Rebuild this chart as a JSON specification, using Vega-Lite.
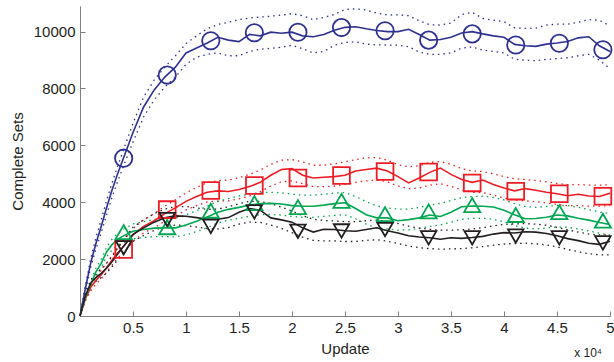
{
  "$schema": "https://vega.github.io/schema/vega-lite/v6.json",
  "width": 530,
  "height": 310,
  "autosize": {"type": "none"},
  "padding": {"left": 80, "top": 6, "right": 4, "bottom": 46},
  "config": {
    "view": {"stroke": null},
    "font": "Liberation Sans",
    "axis": {
      "domainColor": "#808080",
      "tickColor": "#808080",
      "tickSize": -5,
      "labelFontSize": 15,
      "labelColor": "#231F20",
      "labelFont": "Liberation Sans",
      "titleFont": "Liberation Sans",
      "titleFontSize": 15,
      "titleFontWeight": "normal",
      "titleColor": "#231F20",
      "grid": false,
      "labelFlush": false
    }
  },
  "datasets": {
    "curves": [
      {"x":0,"B":0,"Bl":0,"Bh":0,"R":0,"Rl":0,"Rh":0,"G":0,"Gl":0,"Gh":0,"K":0,"Kl":0,"Kh":0},
      {"x":500,"B":950,"Bl":850,"Bh":1050,"R":600,"Rl":520,"Rh":680,"G":650,"Gl":560,"Gh":740,"K":700,"Kl":620,"Kh":780},
      {"x":1000,"B":1850,"Bl":1700,"Bh":2000,"R":1000,"Rl":880,"Rh":1120,"G":1100,"Gl":980,"Gh":1220,"K":1150,"Kl":1040,"Kh":1260},
      {"x":1500,"B":2550,"Bl":2350,"Bh":2750,"R":1250,"Rl":1120,"Rh":1380,"G":1550,"Gl":1420,"Gh":1680,"K":1350,"Kl":1220,"Kh":1480},
      {"x":2000,"B":3150,"Bl":2920,"Bh":3380,"R":1450,"Rl":1300,"Rh":1600,"G":1850,"Gl":1700,"Gh":2000,"K":1500,"Kl":1350,"Kh":1650},
      {"x":2500,"B":3800,"Bl":3550,"Bh":4050,"R":1700,"Rl":1540,"Rh":1860,"G":2250,"Gl":2080,"Gh":2420,"K":1680,"Kl":1510,"Kh":1850},
      {"x":3000,"B":4400,"Bl":4150,"Bh":4650,"R":1950,"Rl":1780,"Rh":2120,"G":2500,"Gl":2310,"Gh":2690,"K":1900,"Kl":1720,"Kh":2080},
      {"x":3500,"B":4950,"Bl":4680,"Bh":5220,"R":2200,"Rl":2020,"Rh":2380,"G":2680,"Gl":2470,"Gh":2890,"K":2150,"Kl":1950,"Kh":2350},
      {"x":4000,"B":5450,"Bl":5170,"Bh":5730,"R":2400,"Rl":2200,"Rh":2600,"G":2800,"Gl":2570,"Gh":3030,"K":2400,"Kl":2180,"Kh":2620},
      {"x":5000,"B":6450,"Bl":6120,"Bh":6780,"R":2850,"Rl":2630,"Rh":3070,"G":2980,"Gl":2720,"Gh":3240,"K":2870,"Kl":2620,"Kh":3120},
      {"x":6000,"B":7350,"Bl":7000,"Bh":7700,"R":3150,"Rl":2920,"Rh":3380,"G":3040,"Gl":2760,"Gh":3320,"K":3100,"Kl":2830,"Kh":3380},
      {"x":7000,"B":7950,"Bl":7600,"Bh":8300,"R":3350,"Rl":3100,"Rh":3600,"G":3090,"Gl":2790,"Gh":3390,"K":3300,"Kl":3010,"Kh":3600},
      {"x":8000,"B":8400,"Bl":8050,"Bh":8750,"R":3600,"Rl":3340,"Rh":3860,"G":3100,"Gl":2790,"Gh":3420,"K":3450,"Kl":3140,"Kh":3760},
      {"x":9000,"B":8750,"Bl":8400,"Bh":9150,"R":3800,"Rl":3510,"Rh":4090,"G":3100,"Gl":2780,"Gh":3450,"K":3520,"Kl":3200,"Kh":3840},
      {"x":10000,"B":9250,"Bl":8850,"Bh":9580,"R":4030,"Rl":3730,"Rh":4330,"G":3200,"Gl":2850,"Gh":3560,"K":3510,"Kl":3180,"Kh":3850},
      {"x":11000,"B":9420,"Bl":9100,"Bh":9850,"R":4200,"Rl":3880,"Rh":4520,"G":3330,"Gl":2970,"Gh":3700,"K":3460,"Kl":3130,"Kh":3800},
      {"x":12000,"B":9600,"Bl":9200,"Bh":10100,"R":4350,"Rl":4010,"Rh":4690,"G":3480,"Gl":3110,"Gh":3860,"K":3400,"Kl":3070,"Kh":3750},
      {"x":13000,"B":9800,"Bl":9250,"Bh":10250,"R":4400,"Rl":4040,"Rh":4760,"G":3650,"Gl":3270,"Gh":4030,"K":3400,"Kl":3060,"Kh":3760},
      {"x":14000,"B":9700,"Bl":9150,"Bh":10330,"R":4380,"Rl":4050,"Rh":4780,"G":3750,"Gl":3370,"Gh":4130,"K":3460,"Kl":3110,"Kh":3840},
      {"x":15000,"B":9650,"Bl":9150,"Bh":10420,"R":4450,"Rl":4120,"Rh":4860,"G":3820,"Gl":3440,"Gh":4220,"K":3650,"Kl":3230,"Kh":3950},
      {"x":16000,"B":9900,"Bl":9300,"Bh":10480,"R":4550,"Rl":4220,"Rh":4980,"G":3900,"Gl":3510,"Gh":4290,"K":3780,"Kl":3300,"Kh":4030},
      {"x":17000,"B":9850,"Bl":9380,"Bh":10510,"R":4700,"Rl":4370,"Rh":5130,"G":3950,"Gl":3560,"Gh":4340,"K":3720,"Kl":3290,"Kh":4030},
      {"x":18000,"B":9980,"Bl":9410,"Bh":10540,"R":4950,"Rl":4570,"Rh":5330,"G":3960,"Gl":3570,"Gh":4350,"K":3450,"Kl":3200,"Kh":3950},
      {"x":19000,"B":9940,"Bl":9450,"Bh":10580,"R":5150,"Rl":4720,"Rh":5480,"G":3940,"Gl":3550,"Gh":4330,"K":3380,"Kl":3080,"Kh":3830},
      {"x":20000,"B":9980,"Bl":9520,"Bh":10630,"R":5180,"Rl":4750,"Rh":5500,"G":3880,"Gl":3500,"Gh":4280,"K":3300,"Kl":2930,"Kh":3690},
      {"x":21000,"B":9850,"Bl":9400,"Bh":10560,"R":4950,"Rl":4650,"Rh":5420,"G":3860,"Gl":3470,"Gh":4250,"K":3100,"Kl":2770,"Kh":3530},
      {"x":22000,"B":9820,"Bl":9250,"Bh":10420,"R":4850,"Rl":4550,"Rh":5300,"G":3860,"Gl":3470,"Gh":4250,"K":2950,"Kl":2660,"Kh":3400},
      {"x":23000,"B":9900,"Bl":9300,"Bh":10500,"R":4880,"Rl":4550,"Rh":5300,"G":3900,"Gl":3500,"Gh":4280,"K":3050,"Kl":2640,"Kh":3360},
      {"x":24000,"B":10050,"Bl":9520,"Bh":10600,"R":4900,"Rl":4570,"Rh":5350,"G":3950,"Gl":3540,"Gh":4320,"K":3040,"Kl":2640,"Kh":3340},
      {"x":25000,"B":10150,"Bl":9620,"Bh":10780,"R":4950,"Rl":4630,"Rh":5420,"G":3980,"Gl":3560,"Gh":4340,"K":3000,"Kl":2620,"Kh":3320},
      {"x":26000,"B":10170,"Bl":9640,"Bh":10800,"R":5100,"Rl":4700,"Rh":5500,"G":3780,"Gl":3420,"Gh":4200,"K":2980,"Kl":2620,"Kh":3320},
      {"x":27000,"B":10100,"Bl":9560,"Bh":10760,"R":5150,"Rl":4750,"Rh":5560,"G":3560,"Gl":3230,"Gh":4020,"K":3040,"Kl":2660,"Kh":3350},
      {"x":28000,"B":10040,"Bl":9530,"Bh":10650,"R":5200,"Rl":4780,"Rh":5570,"G":3450,"Gl":3100,"Gh":3870,"K":3100,"Kl":2680,"Kh":3370},
      {"x":29000,"B":10000,"Bl":9530,"Bh":10580,"R":5100,"Rl":4720,"Rh":5480,"G":3450,"Gl":3060,"Gh":3800,"K":3000,"Kl":2630,"Kh":3330},
      {"x":30000,"B":10000,"Bl":9520,"Bh":10590,"R":4900,"Rl":4570,"Rh":5320,"G":3350,"Gl":3020,"Gh":3760,"K":2920,"Kl":2550,"Kh":3250},
      {"x":31000,"B":10080,"Bl":9470,"Bh":10560,"R":4680,"Rl":4480,"Rh":5250,"G":3390,"Gl":3030,"Gh":3760,"K":2820,"Kl":2460,"Kh":3160},
      {"x":32000,"B":9900,"Bl":9280,"Bh":10380,"R":4850,"Rl":4500,"Rh":5280,"G":3450,"Gl":3080,"Gh":3820,"K":2780,"Kl":2400,"Kh":3090},
      {"x":33000,"B":9700,"Bl":9200,"Bh":10240,"R":5050,"Rl":4600,"Rh":5400,"G":3550,"Gl":3150,"Gh":3900,"K":2750,"Kl":2370,"Kh":3050},
      {"x":34000,"B":9720,"Bl":9200,"Bh":10230,"R":5200,"Rl":4650,"Rh":5430,"G":3500,"Gl":3200,"Gh":3960,"K":2700,"Kl":2350,"Kh":3020},
      {"x":35000,"B":9800,"Bl":9250,"Bh":10300,"R":4980,"Rl":4560,"Rh":5330,"G":3650,"Gl":3300,"Gh":4060,"K":2750,"Kl":2360,"Kh":3020},
      {"x":36000,"B":9950,"Bl":9420,"Bh":10600,"R":4800,"Rl":4430,"Rh":5180,"G":3840,"Gl":3400,"Gh":4160,"K":2730,"Kl":2370,"Kh":3030},
      {"x":37000,"B":10000,"Bl":9460,"Bh":10680,"R":4700,"Rl":4350,"Rh":5100,"G":3870,"Gl":3430,"Gh":4200,"K":2760,"Kl":2400,"Kh":3060},
      {"x":38000,"B":9920,"Bl":9350,"Bh":10460,"R":4780,"Rl":4340,"Rh":5080,"G":3860,"Gl":3440,"Gh":4210,"K":2800,"Kl":2440,"Kh":3110},
      {"x":39000,"B":9850,"Bl":9300,"Bh":10400,"R":4620,"Rl":4250,"Rh":5000,"G":3830,"Gl":3400,"Gh":4170,"K":2880,"Kl":2490,"Kh":3170},
      {"x":40000,"B":9800,"Bl":9250,"Bh":10350,"R":4500,"Rl":4150,"Rh":4900,"G":3720,"Gl":3310,"Gh":4080,"K":2930,"Kl":2530,"Kh":3220},
      {"x":41000,"B":9550,"Bl":9030,"Bh":10130,"R":4400,"Rl":4070,"Rh":4820,"G":3560,"Gl":3180,"Gh":3950,"K":2920,"Kl":2550,"Kh":3240},
      {"x":42000,"B":9500,"Bl":8990,"Bh":10110,"R":4480,"Rl":4050,"Rh":4800,"G":3420,"Gl":3090,"Gh":3850,"K":2960,"Kl":2560,"Kh":3250},
      {"x":43000,"B":9480,"Bl":8980,"Bh":10120,"R":4420,"Rl":4020,"Rh":4760,"G":3430,"Gl":3060,"Gh":3820,"K":2950,"Kl":2540,"Kh":3230},
      {"x":44000,"B":9560,"Bl":9020,"Bh":10230,"R":4350,"Rl":3970,"Rh":4720,"G":3470,"Gl":3090,"Gh":3850,"K":2900,"Kl":2500,"Kh":3190},
      {"x":45000,"B":9600,"Bl":9050,"Bh":10260,"R":4300,"Rl":3920,"Rh":4660,"G":3550,"Gl":3130,"Gh":3890,"K":2820,"Kl":2430,"Kh":3120},
      {"x":46000,"B":9650,"Bl":9080,"Bh":10260,"R":4230,"Rl":3880,"Rh":4620,"G":3520,"Gl":3120,"Gh":3880,"K":2720,"Kl":2340,"Kh":3030},
      {"x":47000,"B":9780,"Bl":9150,"Bh":10330,"R":4280,"Rl":3880,"Rh":4620,"G":3440,"Gl":3060,"Gh":3820,"K":2650,"Kl":2260,"Kh":2950},
      {"x":48000,"B":9820,"Bl":9200,"Bh":10420,"R":4220,"Rl":3860,"Rh":4600,"G":3370,"Gl":2990,"Gh":3740,"K":2560,"Kl":2190,"Kh":2880},
      {"x":49000,"B":9500,"Bl":9000,"Bh":10400,"R":4200,"Rl":3860,"Rh":4600,"G":3290,"Gl":2910,"Gh":3660,"K":2520,"Kl":2150,"Kh":2850},
      {"x":50000,"B":9300,"Bl":8700,"Bh":10200,"R":4320,"Rl":3880,"Rh":4620,"G":3220,"Gl":2840,"Gh":3600,"K":2630,"Kl":2150,"Kh":2850}
    ],
    "markers": [
      {"s":"B","x":4120,"y":5550},{"s":"B","x":8230,"y":8470},{"s":"B","x":12340,"y":9680},{"s":"B","x":16450,"y":9960},
      {"s":"B","x":20560,"y":9975},{"s":"B","x":24670,"y":10140},{"s":"B","x":28780,"y":10030},{"s":"B","x":32890,"y":9700},
      {"s":"B","x":37000,"y":9920},{"s":"B","x":41110,"y":9530},{"s":"B","x":45220,"y":9590},{"s":"B","x":49330,"y":9360},
      {"s":"R","x":4120,"y":2340},{"s":"R","x":8230,"y":3740},{"s":"R","x":12340,"y":4410},{"s":"R","x":16450,"y":4590},
      {"s":"R","x":20560,"y":4850},{"s":"R","x":24670,"y":4940},{"s":"R","x":28780,"y":5080},{"s":"R","x":32890,"y":5060},
      {"s":"R","x":37000,"y":4680},{"s":"R","x":41110,"y":4390},{"s":"R","x":45220,"y":4300},{"s":"R","x":49330,"y":4210},
      {"s":"G","x":4120,"y":2950},{"s":"G","x":8230,"y":3120},{"s":"G","x":12340,"y":3700},{"s":"G","x":16450,"y":3970},
      {"s":"G","x":20560,"y":3830},{"s":"G","x":24670,"y":4050},{"s":"G","x":28780,"y":3580},{"s":"G","x":32890,"y":3680},
      {"s":"G","x":37000,"y":3900},{"s":"G","x":41110,"y":3550},{"s":"G","x":45220,"y":3650},{"s":"G","x":49330,"y":3350},
      {"s":"K","x":4120,"y":2400},{"s":"K","x":8230,"y":3390},{"s":"K","x":12340,"y":3150},{"s":"K","x":16450,"y":3660},
      {"s":"K","x":20560,"y":2980},{"s":"K","x":24670,"y":2990},{"s":"K","x":28780,"y":3040},{"s":"K","x":32890,"y":2750},
      {"s":"K","x":37000,"y":2750},{"s":"K","x":41110,"y":2810},{"s":"K","x":45220,"y":2750},{"s":"K","x":49330,"y":2570}
    ]
  },
  "layer": [
    {
      "data": {"name": "curves"},
      "transform": [{"fold": ["Bl","Bh","Rl","Rh","Gl","Gh","Kl","Kh"], "as": ["k","v"]}],
      "mark": {"type": "line", "strokeDash": [1.5, 4], "strokeWidth": 1.3},
      "encoding": {
        "x": {"field": "x", "type": "quantitative", "title": "Update",
              "scale": {"domain": [0, 50000], "nice": false},
              "axis": {"values": [5000,10000,15000,20000,25000,30000,35000,40000,45000,50000],
                       "labelExpr": "format(datum.value / 10000, '~g')", "labelPadding": 9,
                       "titleBaseline": "alphabetic", "titleY": 37}},
        "y": {"field": "v", "type": "quantitative", "title": "Complete Sets",
              "scale": {"domain": [0, 10900], "nice": false},
              "axis": {"values": [0,2000,4000,6000,8000,10000], "format": "d", "labelPadding": 10,
                       "titleBaseline": "alphabetic", "titleX": -58}},
        "color": {"field": "k", "type": "nominal", "legend": null,
                  "scale": {"domain": ["B","R","G","K","Bl","Bh","Rl","Rh","Gl","Gh","Kl","Kh"],
                            "range": ["#2E3192","#ED1C24","#00A651","#231F20","#2E3192","#2E3192","#ED1C24","#ED1C24","#00A651","#00A651","#231F20","#231F20"]}}
      }
    },
    {
      "data": {"name": "curves"},
      "transform": [{"fold": ["B","R","G","K"], "as": ["k","v"]}],
      "mark": {"type": "line", "strokeWidth": 1.6},
      "encoding": {
        "x": {"field": "x", "type": "quantitative", "title": "Update"},
        "y": {"field": "v", "type": "quantitative", "title": "Complete Sets"},
        "color": {"field": "k", "type": "nominal", "legend": null}
      }
    },
    {
      "data": {"name": "markers"},
      "mark": {"type": "point", "filled": false, "strokeWidth": 1.8, "opacity": 1},
      "encoding": {
        "x": {"field": "x", "type": "quantitative", "title": "Update"},
        "y": {"field": "y", "type": "quantitative", "title": "Complete Sets"},
        "color": {"field": "s", "type": "nominal", "legend": null},
        "shape": {"field": "s", "type": "nominal", "legend": null,
                  "scale": {"domain": ["B","R","G","K"], "range": ["circle","square","triangle-up","triangle-down"]}},
        "size": {"field": "s", "type": "nominal", "legend": null,
                 "scale": {"domain": ["B","R","G","K"], "range": [300, 240, 400, 400]}}
      }
    },
    {
      "data": {"values": [{"x": 50000, "y": 0, "t": "x 10⁴"}]},
      "mark": {"type": "text", "align": "right", "baseline": "alphabetic", "dx": -8, "dy": 41, "fontSize": 12, "color": "#231F20"},
      "encoding": {
        "x": {"field": "x", "type": "quantitative", "title": "Update"},
        "y": {"field": "y", "type": "quantitative", "title": "Complete Sets"},
        "text": {"field": "t"}
      }
    }
  ]
}
